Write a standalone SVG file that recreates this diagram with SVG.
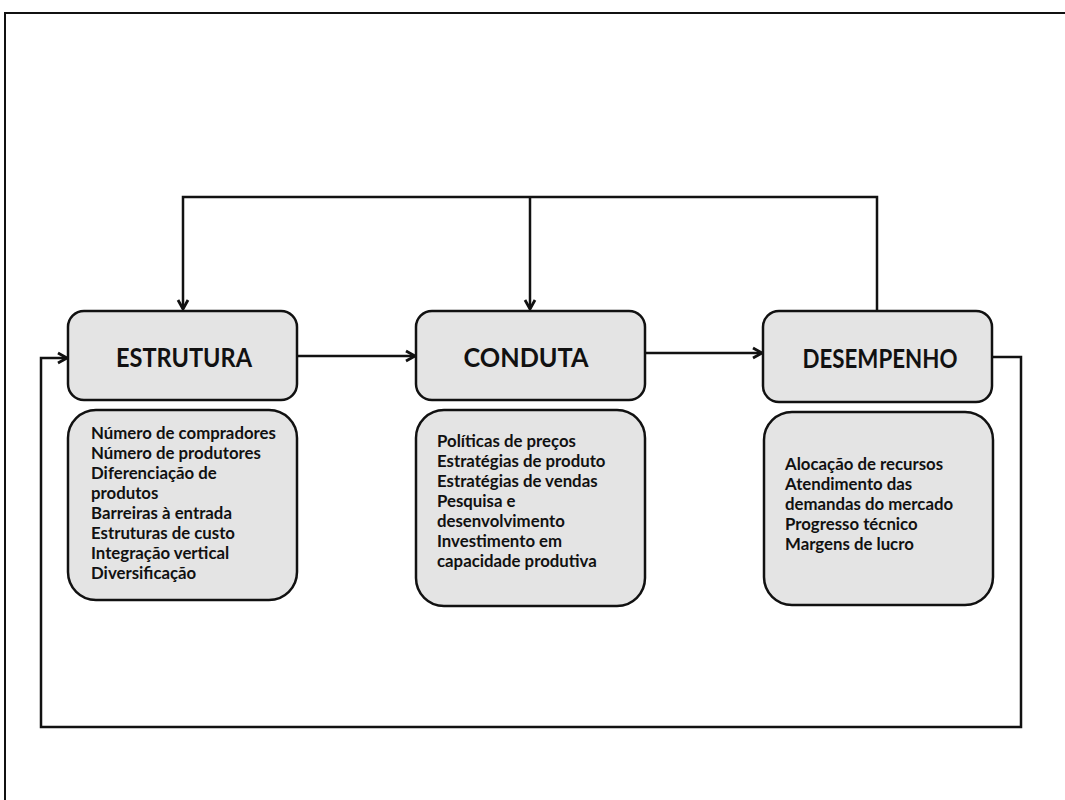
<svg xmlns="http://www.w3.org/2000/svg" width="1065" height="800" viewBox="0 0 1065 800">
  <style>
    .box { fill: #e4e4e4; stroke: #111; stroke-width: 2.5; }
    .head { font-family: Lato, "Liberation Sans", sans-serif; font-weight: 700; font-size: 27px; fill: #111; text-anchor: middle; }
    .list { font-family: Lato, "Liberation Sans", sans-serif; font-weight: 700; font-size: 16.8px; fill: #111; }
    .wire { fill: none; stroke: #111; stroke-width: 2.5; stroke-linejoin: miter; }
    .frame { fill: none; stroke: #111; stroke-width: 2; }
  </style>
  <defs>
    <marker id="arrow" markerUnits="userSpaceOnUse" markerWidth="14" markerHeight="14" viewBox="0 0 14 14" refX="12" refY="7" orient="auto">
      <path d="M3,2 L12,7 L3,12" fill="none" stroke="#111" stroke-width="2.8"/>
    </marker>
  </defs>

  <rect width="1065" height="800" fill="#fff"/>

  <!-- page frame (top and left edges) -->
  <path class="frame" d="M5,800 V13 H1065"/>

  <!-- connectors -->
  <g id="connectors">
    <path class="wire" d="M877,311 V197 H183 V309" marker-end="url(#arrow)"/>
    <path class="wire" d="M530,197 V309" marker-end="url(#arrow)"/>
    <path class="wire" d="M297,356 H415" marker-end="url(#arrow)"/>
    <path class="wire" d="M645,353 H762" marker-end="url(#arrow)"/>
    <path class="wire" d="M992,357 H1021 V727 H41 V358 H67" marker-end="url(#arrow)"/>
  </g>

  <!-- ESTRUTURA -->
  <g id="estrutura">
    <rect class="box" x="68" y="311" width="229" height="89" rx="16"/>
    <text class="head" x="184" y="367" textLength="136" lengthAdjust="spacingAndGlyphs">ESTRUTURA</text>
  </g>
  <g id="estrutura-itens">
    <rect class="box" x="68" y="410" width="229" height="190" rx="28"/>
    <text class="list">
      <tspan x="91" y="439">Número de compradores</tspan>
      <tspan x="91" y="459">Número de produtores</tspan>
      <tspan x="91" y="479">Diferenciação de</tspan>
      <tspan x="91" y="499">produtos</tspan>
      <tspan x="91" y="519">Barreiras à entrada</tspan>
      <tspan x="91" y="539">Estruturas de custo</tspan>
      <tspan x="91" y="559">Integração vertical</tspan>
      <tspan x="91" y="579">Diversificação</tspan>
    </text>
  </g>

  <!-- CONDUTA -->
  <g id="conduta">
    <rect class="box" x="416" y="311" width="229" height="89" rx="16"/>
    <text class="head" x="526" y="367" textLength="125" lengthAdjust="spacingAndGlyphs">CONDUTA</text>
  </g>
  <g id="conduta-itens">
    <rect class="box" x="416" y="410" width="229" height="196" rx="28"/>
    <text class="list">
      <tspan x="437" y="447">Políticas de preços</tspan>
      <tspan x="437" y="467">Estratégias de produto</tspan>
      <tspan x="437" y="487">Estratégias de vendas</tspan>
      <tspan x="437" y="507">Pesquisa e</tspan>
      <tspan x="437" y="527">desenvolvimento</tspan>
      <tspan x="437" y="547">Investimento em</tspan>
      <tspan x="437" y="567">capacidade produtiva</tspan>
    </text>
  </g>

  <!-- DESEMPENHO -->
  <g id="desempenho">
    <rect class="box" x="763" y="311" width="229" height="91" rx="16"/>
    <text class="head" x="880" y="368" textLength="155" lengthAdjust="spacingAndGlyphs">DESEMPENHO</text>
  </g>
  <g id="desempenho-itens">
    <rect class="box" x="764" y="412" width="229" height="193" rx="28"/>
    <text class="list">
      <tspan x="785" y="470">Alocação de recursos</tspan>
      <tspan x="785" y="490">Atendimento das</tspan>
      <tspan x="785" y="510">demandas do mercado</tspan>
      <tspan x="785" y="530">Progresso técnico</tspan>
      <tspan x="785" y="550">Margens de lucro</tspan>
    </text>
  </g>
</svg>
